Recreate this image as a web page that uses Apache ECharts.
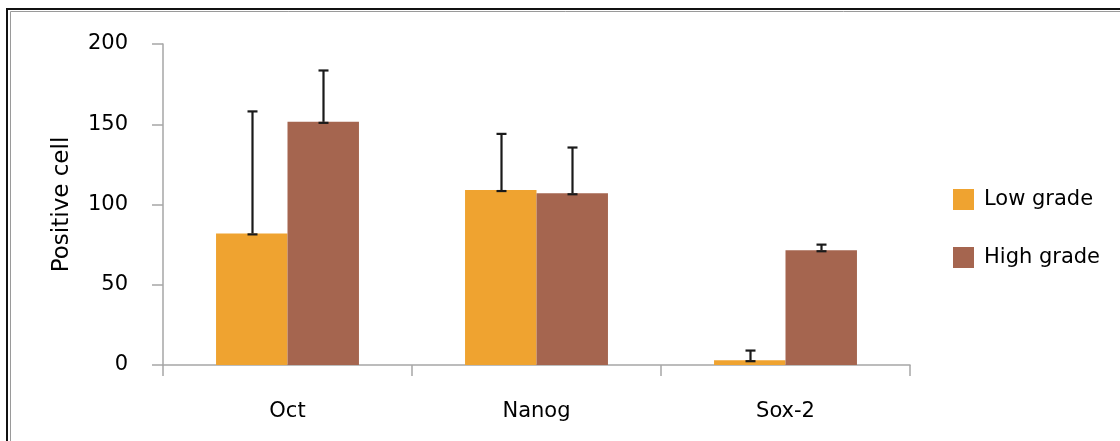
<!DOCTYPE html>
<html>
<head>
<meta charset="utf-8">
<script src="https://cdn.jsdelivr.net/npm/echarts@6/dist/echarts.min.js"></script>
<style>
html,body{margin:0;padding:0;background:#fff;}
#chart{width:1120px;height:441px;}
</style>
</head>
<body>
<div id="chart"></div>
<script>
const categories = ['Oct', 'Nanog', 'Sox-2'];
const seriesNames = ['Low grade', 'High grade'];
const lowGrade = [82, 109, 3];
const lowGradeErr = [76, 35, 6];
const highGrade = [151.5, 107, 71.5];
const highGradeErr = [32, 28.5, 3.5];
const yTicks = [0, 50, 100, 150, 200];

const FONT = 'DejaVu Sans';
const COLORS = ['#EFA330', '#A5654F'];
const CAT_GAP = 0.426;

function errData(vals, errs) {
  return vals.map((v, i) => [i, v, errs[i]]);
}
function makeErrRender(sign) {
  return function (params, api) {
    const cat = api.value(0), v = api.value(1), e = api.value(2);
    const base = api.coord([cat, v]);
    const top = api.coord([cat, v + e]);
    const band = api.size([1, 0])[0];
    const off = band * (1 - CAT_GAP) / 4 * sign;
    const x = Math.round(base[0] + off) + 0.5;
    const half = 5;
    const st = { stroke: '#1a1a1a', lineWidth: 2.2 };
    return {
      type: 'group',
      children: [
        { type: 'line', shape: { x1: x, y1: base[1], x2: x, y2: top[1] }, style: st },
        { type: 'line', shape: { x1: x - half, y1: top[1], x2: x + half, y2: top[1] }, style: st },
        { type: 'line', shape: { x1: x - half, y1: base[1] + 1, x2: x + half, y2: base[1] + 1 }, style: st }
      ]
    };
  };
}

const chart = echarts.init(document.getElementById('chart'), null, { renderer: 'canvas' });
chart.setOption({
  animation: false,
  backgroundColor: '#ffffff',
  textStyle: { fontFamily: FONT, color: '#000' },
  graphic: [
    { type: 'rect', shape: { x: 7, y: 9, width: 1200, height: 500 }, style: { fill: 'none', stroke: '#111', lineWidth: 2 }, silent: true },
    { type: 'rect', shape: { x: 10.5, y: 11.5, width: 1200, height: 500 }, style: { fill: 'none', stroke: '#9a9a9a', lineWidth: 1 }, silent: true }
  ],
  grid: { left: 163, right: 210, top: 44, bottom: 76, containLabel: false },
  legend: {
    data: seriesNames,
    orient: 'vertical',
    left: 953,
    top: 189,
    padding: 0,
    itemGap: 37,
    itemWidth: 21,
    itemHeight: 21,
    icon: 'rect',
    textStyle: { fontFamily: FONT, fontSize: 21, color: '#000', padding: [0, 0, 0, 5] }
  },
  xAxis: {
    type: 'category',
    data: categories,
    axisLine: { lineStyle: { color: '#a6a6a6', width: 1.5 } },
    axisTick: { show: true, length: 11, lineStyle: { color: '#a6a6a6', width: 1.5 } },
    axisLabel: { fontFamily: FONT, fontSize: 21, color: '#000', margin: 36 },
    splitLine: { show: false }
  },
  yAxis: {
    type: 'value',
    min: yTicks[0],
    max: yTicks[yTicks.length - 1],
    interval: yTicks[1] - yTicks[0],
    name: 'Positive cell',
    nameLocation: 'middle',
    nameGap: 89,
    nameTextStyle: { fontFamily: FONT, fontSize: 23, color: '#000' },
    axisLine: { show: true, lineStyle: { color: '#a6a6a6', width: 1.5 } },
    axisTick: { show: true, length: 11, lineStyle: { color: '#a6a6a6', width: 1.5 } },
    axisLabel: { fontFamily: FONT, fontSize: 21, color: '#000', margin: 35 },
    splitLine: { show: false }
  },
  series: [
    {
      name: seriesNames[0], type: 'bar', data: lowGrade,
      itemStyle: { color: COLORS[0] }, barGap: '0%', barCategoryGap: (CAT_GAP * 100) + '%', z: 2
    },
    {
      name: seriesNames[1], type: 'bar', data: highGrade,
      itemStyle: { color: COLORS[1] }, barGap: '0%', barCategoryGap: (CAT_GAP * 100) + '%', z: 2
    },
    {
      name: 'err-low', type: 'custom', data: errData(lowGrade, lowGradeErr),
      renderItem: makeErrRender(-1), z: 5, encode: { x: 0, y: [1, 2] }
    },
    {
      name: 'err-high', type: 'custom', data: errData(highGrade, highGradeErr),
      renderItem: makeErrRender(1), z: 5, encode: { x: 0, y: [1, 2] }
    }
  ]
});
</script>
</body>
</html>
